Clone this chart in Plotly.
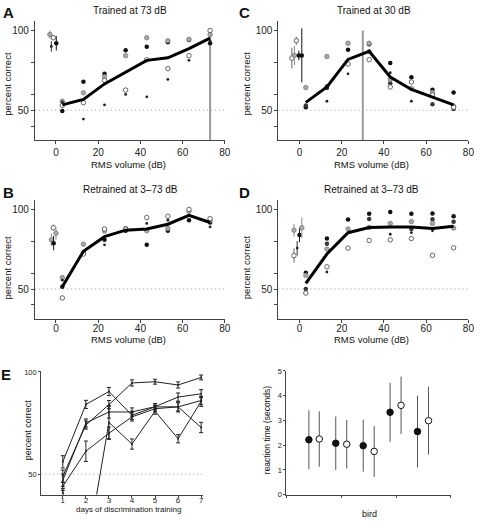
import plotly.graph_objects as go

W, H = 480, 525
FONT = "Liberation Sans, Arial, Helvetica, sans-serif"

# ---------------- data ----------------
volumes = [3, 13, 23, 33, 43, 53, 63, 73]

# Panel A : trained at 73 dB
A_mean = [53.3, 56.8, 66.5, 73.9, 81.3, 82.9, 88.7, 95.2]
A_black = [49.4, 67.9, 72.8, 87.7, 89.9, 92.6, 94.0, 92.0]
A_grey = [55.6, 60.9, 71.0, 84.2, 95.5, 93.6, 94.5, 97.5]
A_open = [53.0, 54.7, 68.7, 62.6, 81.7, 76.1, 84.2, 100.0]
A_small = [55.2, 44.4, 53.3, 59.9, 58.4, 69.3, 81.3, 93.4]
A_pre_x = [-2.9, -2.2, -1.25, 0.15]
A_pre_y = [97.5, 90.0, 95.5, 92.0]
A_pre_err = [2.5, 3.3, 1.5, 4.5]
A_pre_kind = ["grey", "small", "open", "black"]

# Panel B : retrained (bird group 1)
B_mean = [51.4, 73.7, 82.9, 87.0, 87.7, 90.7, 96.3, 91.8]
B_black = [51.4, 73.0, 80.9, 86.6, 77.8, 86.6, 93.2, 91.8]
B_grey = [57.2, 78.2, 86.4, 88.0, 86.6, 88.0, 98.8, 93.2]
B_open = [44.4, 72.0, 87.7, 87.5, 94.9, 95.7, 100.0, 94.2]
B_small = [55.6, None, 77.8, None, 91.2, 93.2, None, 89.0]
B_pre_x = [-2.2, -1.25, -1.1, 0.0]
B_pre_y = [80.9, 88.5, 78.8, 85.0]
B_pre_err = [4.0, 2.0, 4.5, 4.0]
B_pre_kind = ["grey", "open", "black", "grey"]

# Panel C : trained at 30 dB
C_mean = [54.9, 64.6, 81.9, 87.0, 70.8, 63.0, 58.2, 53.3]
C_black = [51.9, 64.0, 87.9, 91.4, 79.6, 70.6, 62.8, 61.1]
C_black2 = [52.9, 64.8, None, 86.8, 66.9, None, 53.7, 50.8]
C_grey = [64.2, 83.7, 92.0, 92.0, 69.3, 63.6, 61.1, 52.5]
C_open = [None, None, 79.0, 81.7, 64.6, 67.7, 59.5, 51.9]
C_small = [None, 55.6, 72.8, None, 73.5, 55.6, None, None]
C_pre_x = [-3.6, -2.4, -1.5, -0.3, 1.1]
C_pre_y = [82.7, 84.4, 93.6, 84.4, 84.4]
C_pre_err = [6.5, 6.0, 2.5, 3.0, 17.0]
C_pre_kind = ["open", "grey", "open", "black", "black"]

# Panel D : retrained (bird group 2)
D_mean = [53.5, 72.0, 85.4, 88.7, 88.9, 88.9, 88.0, 89.5]
D_black = [60.3, 81.7, 93.6, 97.3, 98.4, 97.3, 97.5, 95.7]
D_black2 = [50.0, 78.4, None, 94.0, None, 87.7, 93.8, 92.2]
D_grey = [58.6, 75.1, 87.7, 88.7, 91.2, 92.4, 91.2, 88.3]
D_open = [47.5, 64.0, 75.7, 80.5, 80.9, 81.7, 71.2, 75.9]
D_small = [None, 60.7, None, None, 84.4, 85.4, 86.6, None]
D_pre_x = [-2.6, -2.6, -1.1, 0.0, 1.1]
D_pre_y = [87.0, 71.0, 75.7, 84.0, 88.5]
D_pre_err = [4.0, 4.5, 4.5, 4.5, 6.5]
D_pre_kind = ["grey", "open", "small", "black", "grey"]

# Panel E : learning curves
E_days = [1, 2, 3, 4, 5, 6, 7]
E_s1 = [49.0, 74.0, 84.0, 94.6, 95.2, 93.6, 97.3]
E_s1_err = [3.0, 2.0, 2.0, 1.5, 1.2, 1.5, 1.2]
E_s2 = [56.0, 84.1, 90.4, 78.8, 82.9, 82.9, 72.8]
E_s2_err = [3.0, 2.0, 2.0, 2.0, 1.5, 2.5, 2.5]
E_s3 = [47.0, 75.0, 80.4, 80.4, 83.0, 87.7, 89.3]
E_s3_err = [3.0, 2.0, 3.0, 2.0, 1.5, 2.0, 2.0]
E_s4 = [44.0, 61.2, 70.0, 78.0, 82.0, 82.9, 86.0]
E_s4_err = [2.0, 5.0, 3.0, 2.0, 1.5, 2.0, 2.0]
E_s5 = [41.0, 9.0, 75.3, 64.7, 80.8, 67.3, 85.6]
E_s5_err = [2.0, 3.0, 8.0, 2.5, 1.5, 2.0, 2.5]

# Panel F : reaction times per bird (filled / open)
F_birdpos_filled = [0.41, 0.90, 1.40, 1.89, 2.39]
F_birdpos_open = [0.60, 1.10, 1.60, 2.09, 2.59]
F_filled = [2.22, 2.08, 1.98, 3.33, 2.55]
F_filled_sd = [1.19, 1.08, 1.05, 1.19, 1.45]
F_open = [2.25, 2.04, 1.75, 3.61, 2.99]
F_open_sd = [1.12, 0.98, 1.03, 1.16, 1.37]

# ---------------- styling helpers ----------------
STY = {
    "black": dict(color="#111111", size=4.5, line=dict(width=0)),
    "black2": dict(color="#383838", size=4.5, line=dict(width=0)),
    "grey": dict(color="#a8a8a8", size=4.5, line=dict(color="#7a7a7a", width=0.8)),
    "open": dict(color="white", size=4.5, line=dict(color="#555555", width=0.9)),
    "small": dict(color="#222222", size=2.8, line=dict(width=0)),
}
ERRC = {"black": "#111111", "black2": "#333333", "grey": "#8a8a8a",
        "open": "#666666", "small": "#333333"}

fig = go.Figure()


def dom_x(p0, p1):
    return [p0 / W, p1 / W]


def dom_y(top, bottom):
    return [1 - bottom / H, 1 - top / H]


panels = {
    "A": dict(ax="", x=dom_x(35.3, 227.7), y=dom_y(17.3, 138.8), so=0),
    "B": dict(ax="2", x=dom_x(35.3, 227.7), y=dom_y(199.3, 320.8), so=-3),
    "C": dict(ax="3", x=dom_x(281.9, 474.3), y=dom_y(17.3, 138.8), so=0),
    "D": dict(ax="4", x=dom_x(281.9, 474.3), y=dom_y(199.3, 320.8), so=-3),
}

data = {
    "A": (A_mean, [("black", A_black), ("grey", A_grey), ("open", A_open), ("small", A_small)],
          A_pre_x, A_pre_y, A_pre_err, A_pre_kind),
    "B": (B_mean, [("black", B_black), ("grey", B_grey), ("open", B_open), ("small", B_small)],
          B_pre_x, B_pre_y, B_pre_err, B_pre_kind),
    "C": (C_mean, [("black", C_black), ("black2", C_black2), ("grey", C_grey), ("open", C_open),
                   ("small", C_small)], C_pre_x, C_pre_y, C_pre_err, C_pre_kind),
    "D": (D_mean, [("black", D_black), ("black2", D_black2), ("grey", D_grey), ("open", D_open),
                   ("small", D_small)], D_pre_x, D_pre_y, D_pre_err, D_pre_kind),
}

axis_common = dict(showline=True, linecolor="#444", linewidth=1, ticks="outside",
                   ticklen=3, tickcolor="#444", showgrid=False, zeroline=False,
                   tickfont=dict(family=FONT, size=10, color="#222"))
DOT = dict(color="#9a9a9a", width=1, dash="1px,3px")

layout_axes = {}
shapes = []
for key, p in panels.items():
    a = p["ax"]
    xa, ya = "x" + a, "y" + a
    mean, birds, px, py, pe, pk = data[key]
    for kind, vals in birds:
        fig.add_trace(go.Scatter(x=volumes, y=vals, mode="markers", marker=STY[kind],
                                 xaxis=xa, yaxis=ya, hoverinfo="skip"))
    for xv, yv, ev, kind in zip(px, py, pe, pk):
        fig.add_trace(go.Scatter(x=[xv], y=[yv], mode="markers", marker=STY[kind],
                                 error_y=dict(type="data", array=[ev], width=0, thickness=1,
                                              color=ERRC[kind]),
                                 xaxis=xa, yaxis=ya, hoverinfo="skip"))
    fig.add_trace(go.Scatter(x=volumes, y=mean, mode="lines",
                             line=dict(color="black", width=3),
                             xaxis=xa, yaxis=ya, hoverinfo="skip"))
    layout_axes["xaxis" + a] = dict(axis_common, domain=p["x"], range=[-10, 80],
                                    tickvals=[0, 20, 40, 60, 80], anchor=ya,
                                    ticklabelstandoff=p["so"])
    layout_axes["yaxis" + a] = dict(axis_common, domain=p["y"], range=[31, 106],
                                    tickvals=[40, 50, 60, 80, 100],
                                    ticktext=["", "50", "", "", "100"], anchor=xa)
    shapes.append(dict(type="line", xref=xa, yref=ya, x0=-10, x1=80, y0=50, y1=50,
                       line=DOT, layer="below"))

shapes.append(dict(type="line", xref="x", yref="y", x0=73, x1=73, y0=31, y1=100,
                   line=dict(color="#9a9a9a", width=2), layer="below"))
shapes.append(dict(type="line", xref="x3", yref="y3", x0=30, x1=30, y0=31, y1=100,
                   line=dict(color="#9a9a9a", width=2), layer="below"))

# Panel E
for ys, es in [(E_s1, E_s1_err), (E_s2, E_s2_err), (E_s3, E_s3_err), (E_s4, E_s4_err),
               (E_s5, E_s5_err)]:
    fig.add_trace(go.Scatter(x=E_days, y=ys, mode="lines+markers",
                             line=dict(color="#222", width=1),
                             marker=dict(color="#222", size=2),
                             error_y=dict(type="data", array=es, width=2, thickness=1,
                                          color="#222"),
                             xaxis="x5", yaxis="y5", hoverinfo="skip"))
layout_axes["xaxis5"] = dict(axis_common, domain=dom_x(41.7, 206), range=[0.06, 7.1],
                             tickvals=E_days, anchor="y5", ticklen=2, ticklabelstandoff=-4,
                             tickfont=dict(family=FONT, size=8, color="#222"))
layout_axes["yaxis5"] = dict(axis_common, domain=dom_y(373.3, 499.1), range=[40, 100.5],
                             tickvals=[50, 100], anchor="x5", ticklen=2,
                             tickfont=dict(family=FONT, size=7.5, color="#222"))
shapes.append(dict(type="line", xref="x5", yref="y5", x0=0.06, x1=7.1, y0=50, y1=50,
                   line=DOT, layer="below"))

# Panel F
for xs, ys, sd, filled in [(F_birdpos_filled, F_filled, F_filled_sd, True),
                           (F_birdpos_open, F_open, F_open_sd, False)]:
    fig.add_trace(go.Scatter(x=xs, y=ys, mode="markers",
                             marker=dict(color="#111" if filled else "white", size=6.5,
                                         line=dict(color="#111", width=1)),
                             error_y=dict(type="data", array=sd, width=0, thickness=1,
                                          color="#555"),
                             xaxis="x6", yaxis="y6", hoverinfo="skip"))
layout_axes["xaxis6"] = dict(axis_common, domain=dom_x(290, 456.7), range=[0, 3],
                             tickvals=[0, 1, 2, 3], ticktext=["", "", "", ""], anchor="y6",
                             ticklen=2)
layout_axes["yaxis6"] = dict(axis_common, domain=dom_y(373.3, 499.3), range=[0, 5],
                             tickvals=[0, 1, 2, 3, 4, 5], anchor="x6", ticklen=2,
                             tickfont=dict(family=FONT, size=7.5, color="#222"))


def ann(text, px, py, size, bold=False, angle=0):
    return dict(text=("<b>%s</b>" % text) if bold else text, x=px / W, y=1 - py / H,
                xref="paper", yref="paper", xanchor="center", yanchor="middle",
                showarrow=False, textangle=angle,
                font=dict(family=FONT, size=size, color="#111"))


annotations = [
    ann("A", 9, 9, 15, True), ann("C", 248, 9, 15, True),
    ann("B", 9, 192, 15, True), ann("D", 248, 192, 15, True),
    ann("E", 6, 377, 15, True),
    ann("Trained at 73 dB", 131.7, 7, 10), ann("Trained at 30 dB", 379, 7, 10),
    ann("Retrained at 3\u201373 dB", 131.7, 189, 10),
    ann("Retrained at 3\u201373 dB", 376.7, 189, 10),
    ann("RMS volume (dB)", 130, 163, 9.5), ann("RMS volume (dB)", 376.7, 163, 9.5),
    ann("RMS volume (dB)", 130, 341.5, 9.5), ann("RMS volume (dB)", 376.7, 341.5, 9.5),
    ann("percent correct", 7.3, 81, 9.5, angle=-90),
    ann("percent correct", 7.3, 268, 9.5, angle=-90),
    ann("percent correct", 250, 81, 9.5, angle=-90),
    ann("percent correct", 250, 268, 9.5, angle=-90),
    ann("percent correct", 28, 433, 9, angle=-90),
    ann("days of discrimination training", 130, 514.5, 8),
    ann("reaction time (seconds)", 270, 433, 8.5, angle=-90),
    ann("bird", 374, 519, 9),
]

fig.update_layout(width=W, height=H, margin=dict(l=0, r=0, t=0, b=0),
                  paper_bgcolor="white", plot_bgcolor="white", showlegend=False,
                  shapes=shapes, annotations=annotations, **layout_axes)

fig.write_html("out.html", config={"displayModeBar": False},
               post_script="document.body.style.margin='0';")
